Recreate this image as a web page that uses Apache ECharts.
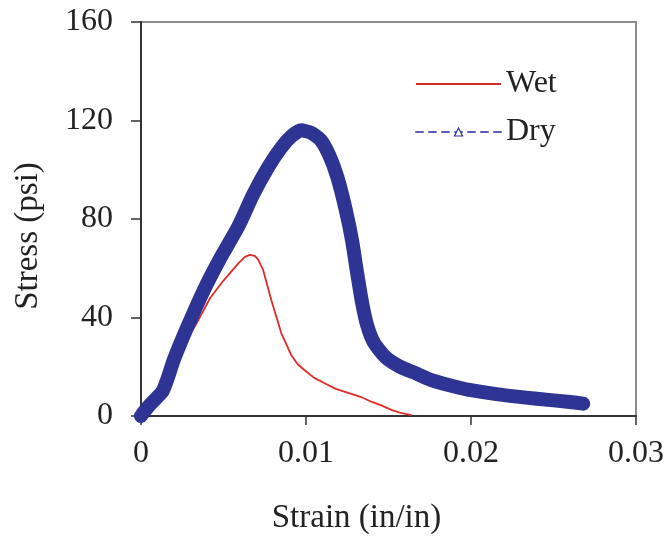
<!DOCTYPE html>
<html>
<head>
<meta charset="utf-8">
<script src="https://cdn.jsdelivr.net/npm/echarts@6/dist/echarts.min.js"></script>
<style>
html, body { margin: 0; padding: 0; background: #fff; }
#main { width: 670px; height: 542px; }
</style>
</head>
<body>
<div id="main"></div>
<script>
// strain (in/in) vs stress (psi)
var dryStrain = [0, 0.0001, 0.0006, 0.0013, 0.0016, 0.002, 0.0028, 0.0038, 0.0048, 0.0059, 0.0068, 0.0077, 0.0085, 0.0091, 0.0097, 0.0103, 0.0109, 0.0114, 0.0119, 0.0124, 0.0128, 0.0131, 0.0134, 0.0137, 0.0141, 0.0148, 0.0157, 0.0166, 0.0176, 0.019, 0.02, 0.022, 0.024, 0.026, 0.0268];
var dryStress = [0, 1, 5, 10, 15, 23, 36, 51, 64, 77, 90, 101, 109, 113.5, 116, 115, 112, 106, 97, 84, 71, 58, 46, 37, 30, 24, 20, 17.5, 14.6, 12, 10.5, 8.5, 7, 5.7, 5];

var wetStrain = [0, 0.001, 0.0015, 0.002, 0.0026, 0.0034, 0.0042, 0.005, 0.0059, 0.0063, 0.0066, 0.0069, 0.0071, 0.0074, 0.0079, 0.0085, 0.0091, 0.0095, 0.0099, 0.0105, 0.0111, 0.0118, 0.0126, 0.0133, 0.014, 0.0146, 0.0152, 0.0158, 0.0164];
var wetStress = [0, 6, 12, 20, 29, 38, 48, 55, 62, 64.6, 65.4, 65, 63.5, 59.3, 47, 33.7, 24.8, 21, 18.7, 15.5, 13.4, 11, 9.3, 7.8, 5.7, 4.2, 2.4, 1.2, 0.4];

var xTicks = [0, 0.01, 0.02, 0.03];
var yTicks = [0, 40, 80, 120, 160];

function pairs(xs, ys) {
	var out = [];
	for (var i = 0; i < xs.length; i++) out.push([xs[i], ys[i]]);
	return out;
}

var font = 'Liberation Serif';
var myChart = echarts.init(document.getElementById('main'));
var option = {
	backgroundColor: '#fff',
	animation: false,
	grid: {
		left: 141,
		top: 22,
		right: 34,
		bottom: 126,
		show: true,
		borderColor: '#8c8c8c',
		borderWidth: 2
	},
	legend: {
		orient: 'vertical',
		left: 410,
		top: 63,
		itemWidth: 85,
		itemHeight: 10,
		itemGap: 16,
		textStyle: {
			fontFamily: font,
			fontSize: 32,
			color: '#222'
		},
		data: [{
			name: 'Wet',
			itemStyle: { opacity: 0 },
			lineStyle: { color: '#d42a2a', width: 2 }
		}, {
			name: 'Dry',
			itemStyle: { color: '#fff', borderColor: '#2e3494', borderWidth: 1.2 },
			lineStyle: { color: '#5a5ec0', width: 2, type: [7, 6] }
		}]
	},
	xAxis: {
		type: 'value',
		min: xTicks[0],
		max: xTicks[xTicks.length - 1],
		interval: 0.01,
		name: 'Strain (in/in)',
		nameLocation: 'middle',
		nameGap: 86,
		nameTextStyle: {
			fontFamily: font,
			fontSize: 33,
			color: '#222',
			padding: [0, 64, 0, 0]
		},
		axisLine: { lineStyle: { color: '#333', width: 2 } },
		axisTick: { inside: false, length: 9, lineStyle: { color: '#333', width: 1.5 } },
		axisLabel: {
			margin: 22,
			fontFamily: font,
			fontSize: 32,
			color: '#222',
			formatter: function (v) { return v === 0 ? '0' : v.toFixed(2); }
		},
		splitLine: { show: false }
	},
	yAxis: {
		type: 'value',
		min: yTicks[0],
		max: yTicks[yTicks.length - 1],
		interval: 40,
		name: 'Stress (psi)',
		nameLocation: 'middle',
		nameGap: 96,
		nameTextStyle: {
			fontFamily: font,
			fontSize: 33,
			color: '#222',
			padding: [0, 34, 0, 0]
		},
		axisLine: { show: true, lineStyle: { color: '#333', width: 2 } },
		axisTick: { show: true, inside: false, length: 10, lineStyle: { color: '#333', width: 1.5 } },
		axisLabel: {
			margin: 28,
			fontFamily: font,
			fontSize: 32,
			color: '#222'
		},
		splitLine: { show: false }
	},
	series: [{
		name: 'Dry',
		type: 'line',
		data: pairs(dryStrain, dryStress),
		smooth: 0.2,
		symbol: 'triangle',
		showSymbol: false,
		z: 2,
		itemStyle: { color: '#2e3494' },
		lineStyle: { color: '#2e3494', width: 14, cap: 'round', join: 'round' }
	}, {
		name: 'Wet',
		type: 'line',
		data: pairs(wetStrain, wetStress),
		symbol: 'none',
		z: 1,
		itemStyle: { color: '#d42a2a' },
		lineStyle: { color: '#e02a2a', width: 1.8 }
	}]
};
myChart.setOption(option);
</script>
</body>
</html>
